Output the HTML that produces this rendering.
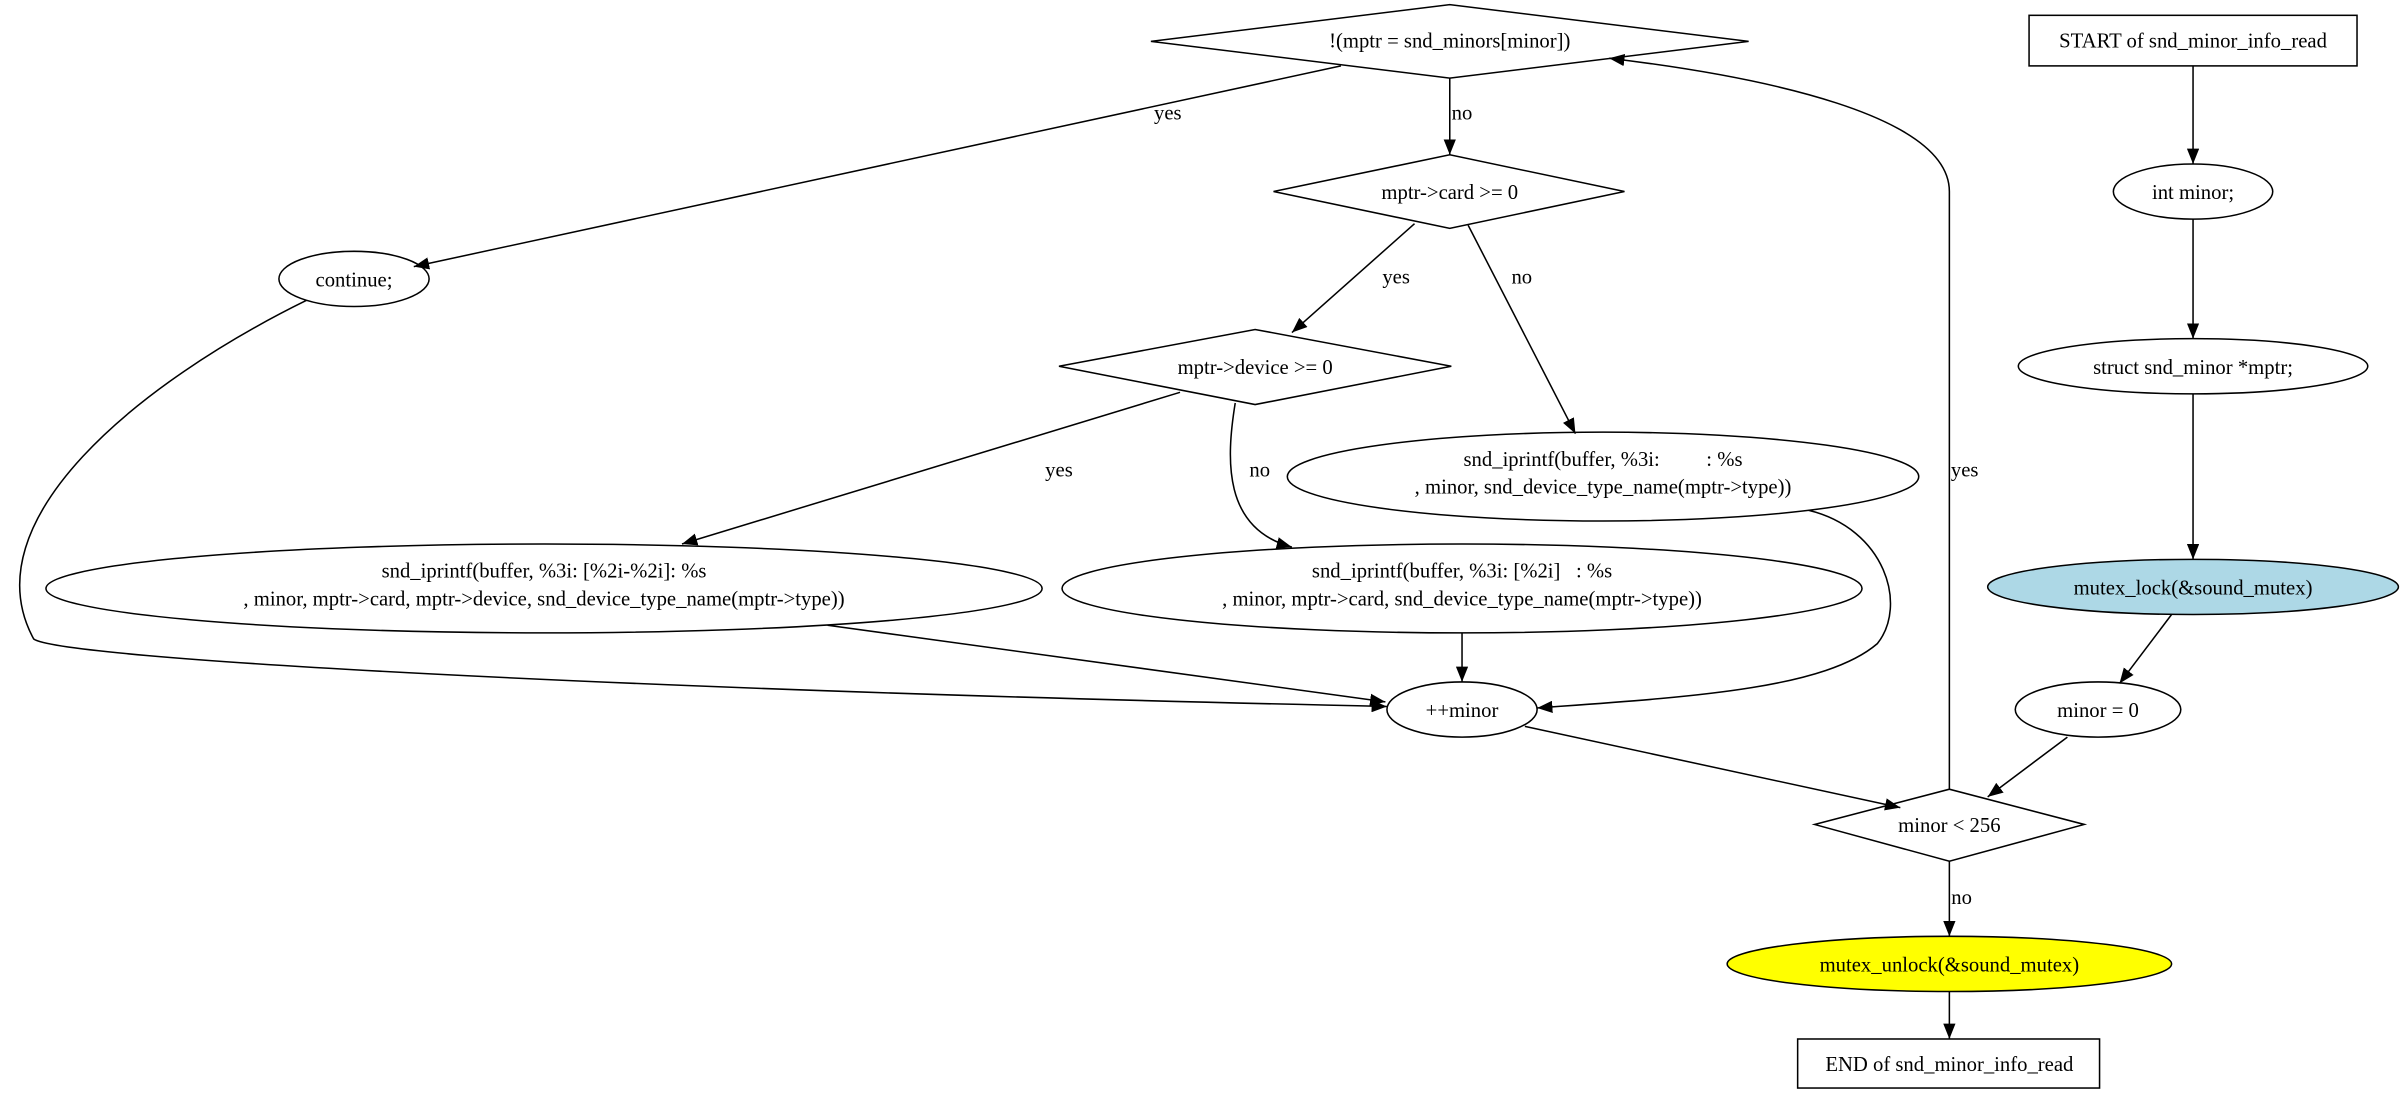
<!DOCTYPE html>
<html><head><meta charset="utf-8"><style>html,body{margin:0;padding:0;background:#fff}svg{display:block}</style></head>
<body>
<svg width="2403" height="1096" viewBox="0 0 1568 715.2" preserveAspectRatio="none" xmlns="http://www.w3.org/2000/svg" font-family="'Liberation Serif', serif" font-size="13.5">
<defs><marker id="a" markerWidth="10" markerHeight="8" refX="10" refY="4" orient="auto" markerUnits="userSpaceOnUse"><path d="M0,0 L10,4 L0,8 z" fill="#000"/></marker></defs>
<rect width="1568" height="716" fill="#fff"/>
<g fill="none" stroke="#000" stroke-width="1">
<polygon points="751,27 946,3 1141,27 946,51"/>
<rect x="1324" y="10" width="214" height="33"/>
<ellipse cx="1431" cy="125" rx="52" ry="18"/>
<ellipse cx="1431" cy="239" rx="114" ry="18"/>
<ellipse cx="1431" cy="383" rx="134" ry="18" fill="#add8e6"/>
<ellipse cx="1369" cy="463" rx="54" ry="18"/>
<polygon points="1184,538 1272,515 1360,538 1272,562"/>
<ellipse cx="1272" cy="629" rx="145" ry="18" fill="#ffff00"/>
<rect x="1173" y="678" width="197" height="32"/>
<polygon points="831,125 946,101 1060,125 946,149"/>
<polygon points="691,239 819,215 947,239 819,264"/>
<ellipse cx="231" cy="182" rx="49" ry="18"/>
<ellipse cx="1046" cy="311" rx="206" ry="29"/>
<ellipse cx="355" cy="384" rx="325" ry="29"/>
<ellipse cx="954" cy="384" rx="261" ry="29"/>
<ellipse cx="954" cy="463" rx="49" ry="18"/>
<g marker-end="url(#a)">
<path d="M946,51 L946,101"/>
<path d="M875,43 L270,174"/>
<path d="M923,146 L843,217"/>
<path d="M958,147 L1028,283"/>
<path d="M770,256 L445,355"/>
<path d="M806,263 C800,300 798,345 843,357"/>
<path d="M540,408 L904,458"/>
<path d="M954,413 L954,445"/>
<path d="M1180,333 C1230,345 1245,395 1225,420 C1190,450 1100,455 1003,462"/>
<path d="M200,196 C90,250 -20,340 22,417 C40,430 400,450 905,461"/>
<path d="M995,474 L1240,527"/>
<path d="M1272,515 L1272,125 C1272,75 1150,50 1050,38"/>
<path d="M1431,43 L1431,107"/>
<path d="M1431,143 L1431,221"/>
<path d="M1431,257 L1431,365"/>
<path d="M1417,401 L1383,446"/>
<path d="M1349,481 L1297,520"/>
<path d="M1272,562 L1272,611"/>
<path d="M1272,647 L1272,678"/>
</g>
</g>
<g text-anchor="middle" fill="#000">
<text x="946" y="31">!(mptr = snd_minors[minor])</text>
<text x="1431" y="31">START of snd_minor_info_read</text>
<text x="1431" y="130">int minor;</text>
<text x="1431" y="244">struct snd_minor *mptr;</text>
<text x="1431" y="388">mutex_lock(&amp;sound_mutex)</text>
<text x="1369" y="468">minor = 0</text>
<text x="1272" y="543">minor &lt; 256</text>
<text x="1272" y="634">mutex_unlock(&amp;sound_mutex)</text>
<text x="1272" y="699">END of snd_minor_info_read</text>
<text x="946" y="130">mptr-&gt;card &gt;= 0</text>
<text x="819" y="244">mptr-&gt;device &gt;= 0</text>
<text x="231" y="187">continue;</text>
<text x="1046" y="304" xml:space="preserve">snd_iprintf(buffer, %3i:         : %s</text>
<text x="1046" y="322">, minor, snd_device_type_name(mptr->type))</text>
<text x="355" y="377">snd_iprintf(buffer, %3i: [%2i-%2i]: %s</text>
<text x="355" y="395">, minor, mptr-&gt;card, mptr-&gt;device, snd_device_type_name(mptr-&gt;type))</text>
<text x="954" y="377" xml:space="preserve">snd_iprintf(buffer, %3i: [%2i]   : %s</text>
<text x="954" y="395">, minor, mptr-&gt;card, snd_device_type_name(mptr-&gt;type))</text>
<text x="954" y="468">++minor</text>
<text x="954" y="78">no</text>
<text x="762" y="78">yes</text>
<text x="911" y="185">yes</text>
<text x="993" y="185">no</text>
<text x="691" y="311">yes</text>
<text x="822" y="311">no</text>
<text x="1282" y="311">yes</text>
<text x="1280" y="590">no</text>
</g>
</svg>
</body></html>
